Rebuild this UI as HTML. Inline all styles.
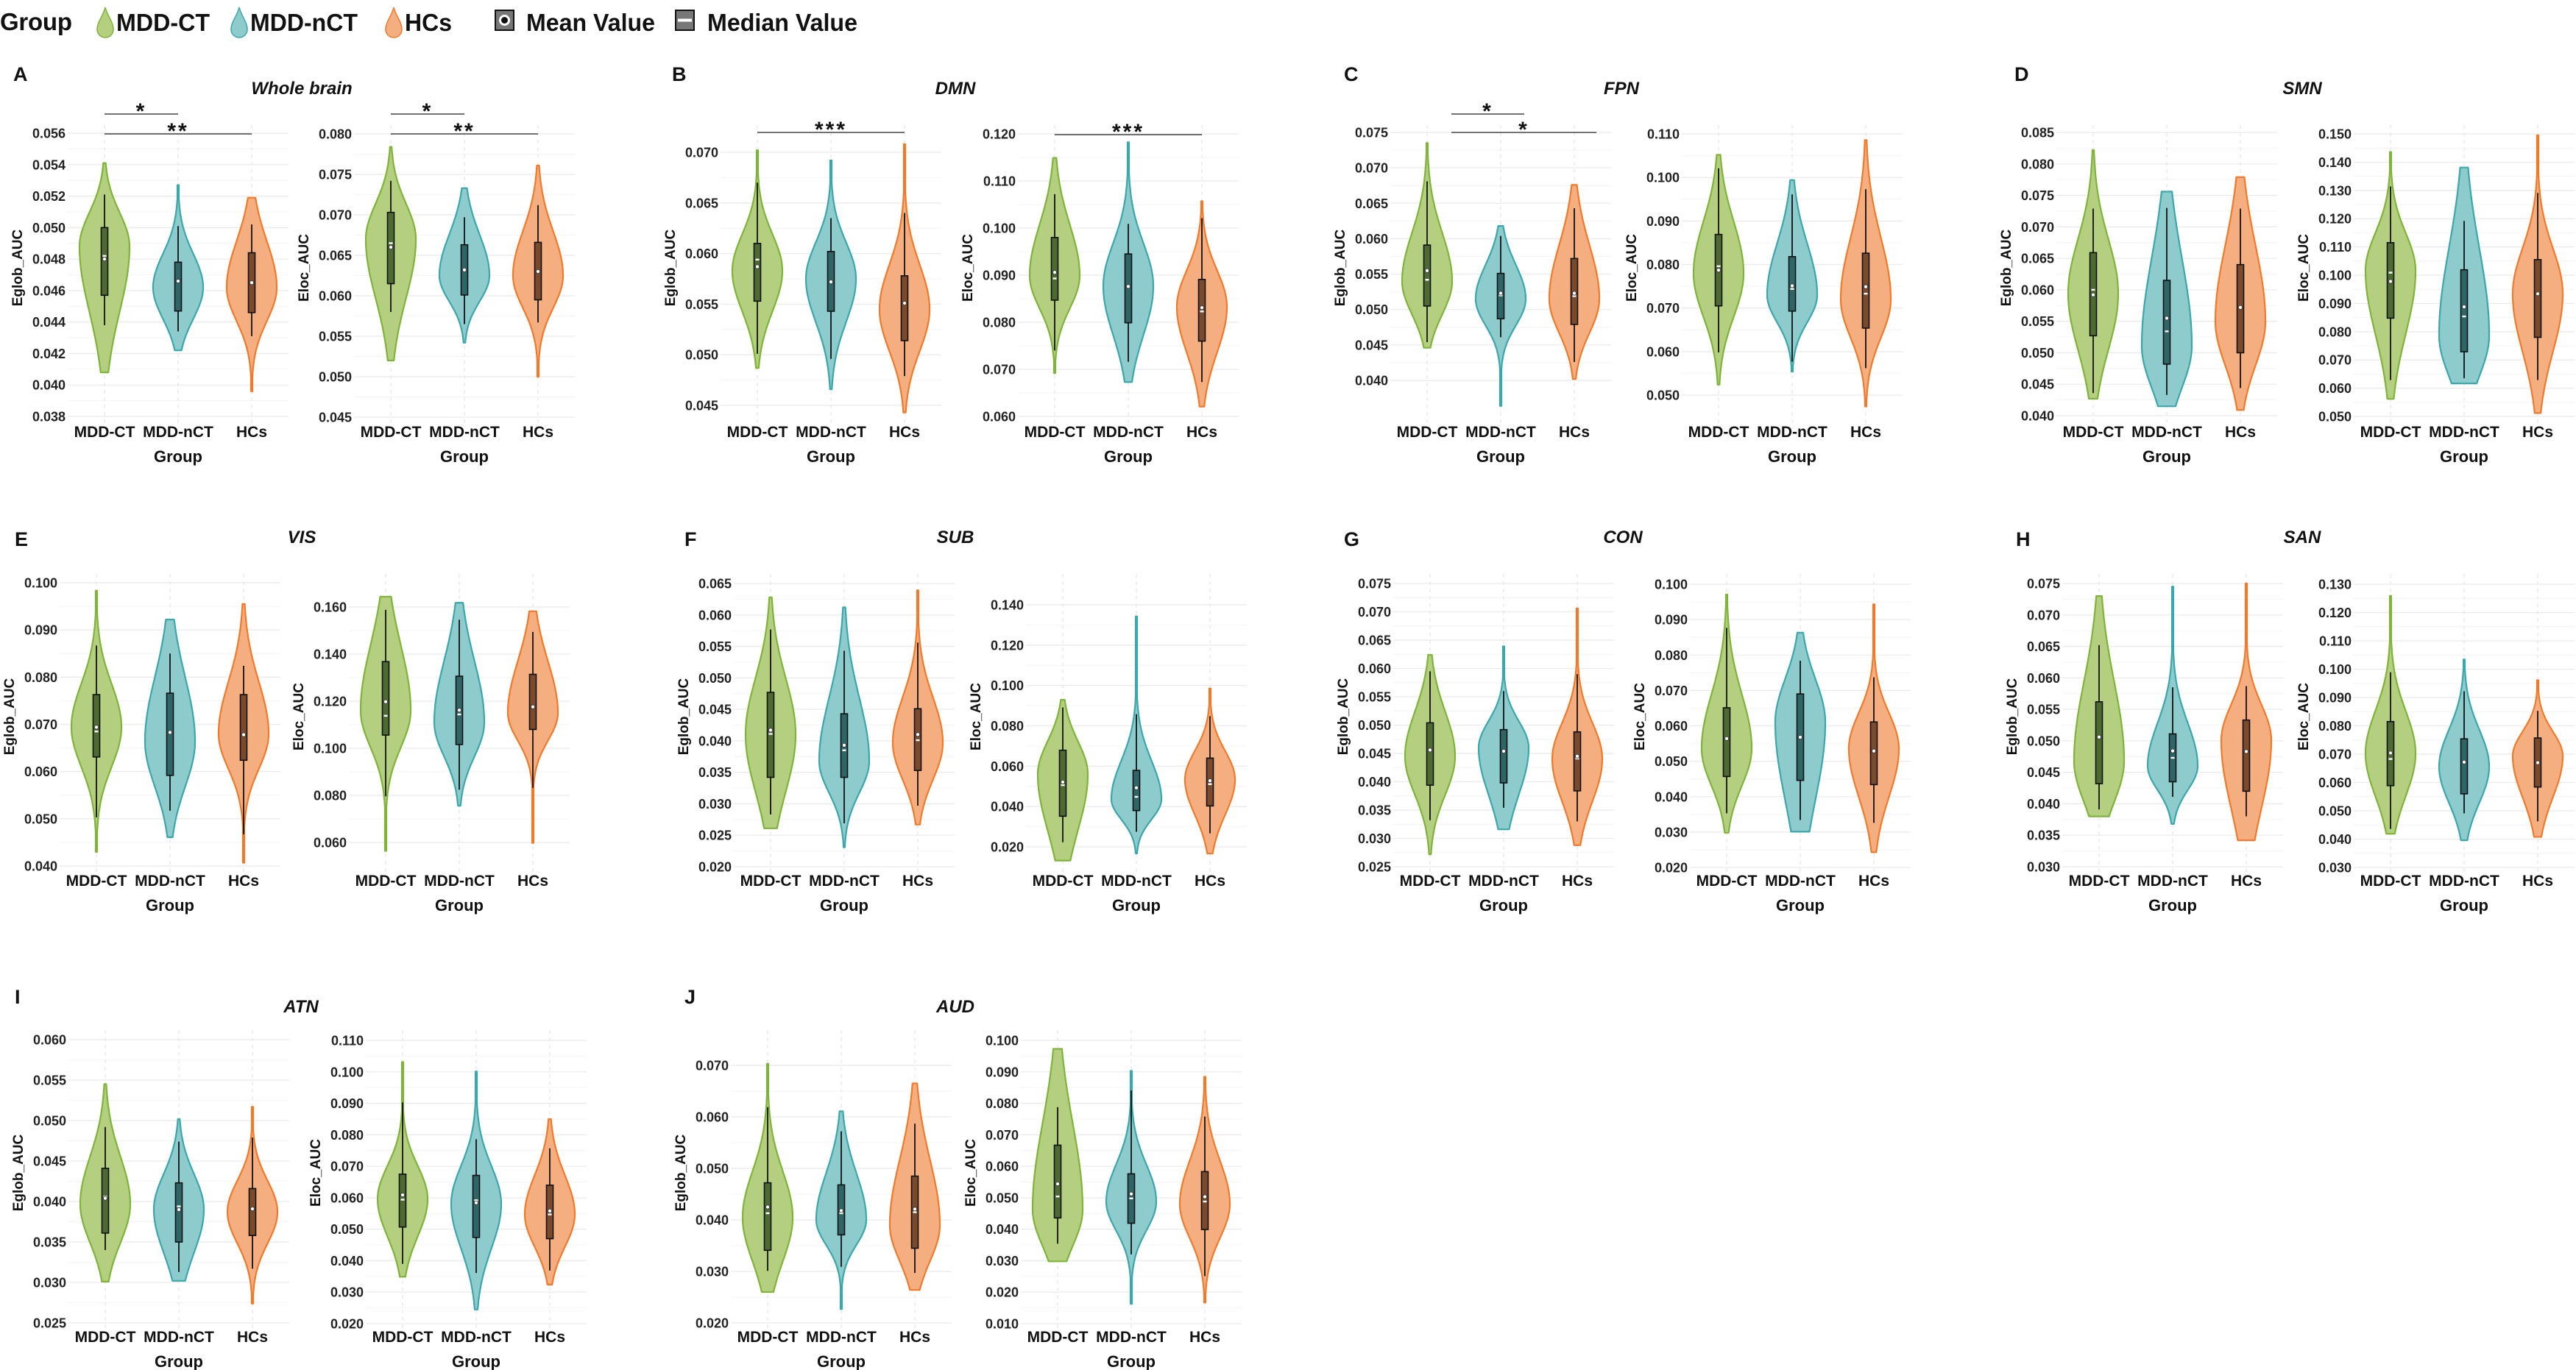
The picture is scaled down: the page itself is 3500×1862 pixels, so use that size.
<!DOCTYPE html>
<html><head><meta charset="utf-8">
<style>
html,body{margin:0;padding:0;background:#fff;}
svg{display:block;}
.tick{font-family:"Liberation Sans Narrow","Liberation Sans",sans-serif;font-weight:bold;font-size:18px;fill:#222;}
.cat{font-family:"Liberation Sans Narrow","Liberation Sans",sans-serif;font-weight:bold;font-size:21px;fill:#111;}
.axt{font-family:"Liberation Sans",sans-serif;font-weight:bold;font-size:19px;fill:#111;}
.grp{font-family:"Liberation Sans Narrow","Liberation Sans",sans-serif;font-weight:bold;font-size:22px;fill:#111;}
.ttl{font-family:"Liberation Sans",sans-serif;font-weight:bold;font-style:italic;font-size:24px;fill:#111;}
.let{font-family:"Liberation Sans",sans-serif;font-weight:bold;font-size:27px;fill:#111;}
.leg{font-family:"Liberation Sans",sans-serif;font-weight:bold;font-size:33px;fill:#111;}
.sig{font-family:"Liberation Sans",sans-serif;font-weight:bold;font-size:30px;fill:#111;}
</style></head>
<body>
<svg id="chart" width="3500" height="1862" viewBox="0 0 3500 1862" xmlns="http://www.w3.org/2000/svg">
<g id="legend">
  <text class="leg" x="0" y="41" textLength="98">Group</text>
  <g>
    <path d="M143,10 C146,22 154,30 154,40 A11,11 0 0 1 132,40 C132,30 140,22 143,10Z" fill="#b3cf7f" stroke="#7fb33a" stroke-width="1.5"/>
    <text class="leg" x="158" y="42" textLength="127" lengthAdjust="spacingAndGlyphs">MDD-CT</text>
  </g>
  <g>
    <path d="M325,10 C328,22 336,30 336,40 A11,11 0 0 1 314,40 C314,30 322,22 325,10Z" fill="#8ecbcc" stroke="#3ba7ab" stroke-width="1.5"/>
    <text class="leg" x="340" y="42" textLength="146" lengthAdjust="spacingAndGlyphs">MDD-nCT</text>
  </g>
  <g>
    <path d="M535,10 C538,22 546,30 546,40 A11,11 0 0 1 524,40 C524,30 532,22 535,10Z" fill="#f5ae80" stroke="#f07a2b" stroke-width="1.5"/>
    <text class="leg" x="550" y="42" textLength="64" lengthAdjust="spacingAndGlyphs">HCs</text>
  </g>
  <g>
    <rect x="673" y="14" width="25" height="27" fill="#777" stroke="#111" stroke-width="2"/>
    <circle cx="685.5" cy="27.5" r="7.5" fill="#fff"/><circle cx="685.5" cy="27.5" r="4.5" fill="#111"/>
    <text class="leg" x="715" y="42" textLength="175" lengthAdjust="spacingAndGlyphs">Mean Value</text>
  </g>
  <g>
    <rect x="918" y="14" width="25" height="27" fill="#777" stroke="#111" stroke-width="2"/>
    <rect x="921" y="25.5" width="19" height="4" fill="#fff"/>
    <text class="leg" x="961" y="42" textLength="204" lengthAdjust="spacingAndGlyphs">Median Value</text>
  </g>
</g>
<g id="plots"></g>
</svg>
<script>
const categories = ['MDD-CT','MDD-nCT','HCs'];
const panelLetters = ['A','B','C','D','E','F','G','H','I','J'];
const panelTitles = ['Whole brain','DMN','FPN','SMN','VIS','SUB','CON','SAN','ATN','AUD'];
const metricNames = ['Eglob_AUC','Eloc_AUC'];
const yTickMin = [.038,.045,.045,.060,.040,.050,.040,.050,.040,.060,.020,.020,.025,.020,.030,.030,.025,.020,.020,.010];
const yTickMax = [.056,.080,.070,.120,.075,.110,.085,.150,.100,.160,.065,.140,.075,.100,.075,.130,.060,.110,.070,.100];
const yTickStep = [.002,.005,.005,.010,.005,.010,.005,.010,.010,.020,.005,.020,.005,.010,.005,.010,.005,.010,.010,.010];
const vMin = [[.0408,.0422,.0396],[.052,.0542,.050],[.0487,.0466,.0443],[.0692,.0673,.0621],[.0446,.0364,.0402],[.0524,.0554,.0474],[.0427,.0415,.0409],[.0562,.0617,.0512],[.043,.0461,.0407],[.0564,.0756,.0598],[.0261,.0231,.0267],[.0132,.0167,.0167],[.0272,.0316,.0288],[.0298,.0301,.0243],[.038,.0368,.0342],[.0419,.0396,.0408],[.0301,.0302,.0274],[.0349,.0245,.0324],[.026,.0227,.0264],[.0298,.0163,.0167]];
const vMax = [[.0541,.0527,.0519],[.0784,.0733,.0761],[.0702,.0692,.0708],[.1149,.1182,.1057],[.0735,.0618,.0676],[.1052,.0994,.1086],[.0822,.0756,.0779],[.1436,.1381,.1495],[.0983,.0922,.0955],[.1644,.1618,.1582],[.0628,.0612,.0639],[.0929,.1342,.0985],[.0624,.0639,.0706],[.0971,.0863,.0943],[.073,.0745,.075],[.1259,.1034,.0961],[.0545,.0502,.0517],[.1031,.1001,.085],[.0703,.0611,.0665],[.0973,.0903,.0884]];
const vMode = [[.0488,.0462,.0462],[.067,.0625,.0625],[.0583,.0575,.0545],[.0899,.0877,.0833],[.054,.0515,.0515],[.078,.073,.072],[.0594,.0511,.055],[.1016,.0787,.0934],[.0694,.0664,.068],[.116,.111,.115],[.041,.0368,.0397],[.056,.0436,.0534],[.0445,.046,.044],[.0536,.061,.0536],[.0468,.046,.0501],[.0702,.0656,.0693],[.0397,.039,.0387],[.0596,.058,.0547],[.0405,.040,.039],[.0463,.0488,.048]];
const wLo = [[.0438,.0434,.0431],[.058,.0565,.0567],[.0501,.0496,.0479],[.074,.0716,.0673],[.0454,.0461,.0426],[.0598,.0577,.0562],[.0436,.0433,.0444],[.0629,.0635,.0629],[.0503,.0517,.0467],[.0796,.0824,.0832],[.0283,.0269,.0297],[.0223,.0275,.0267],[.0332,.0354,.033],[.0353,.0334,.0326],[.0391,.0411,.038],[.0436,.0491,.0463],[.034,.0313,.0317],[.039,.0361,.0369],[.0301,.0309,.0297],[.0354,.032,.0251]];
const q1 = [[.0457,.0447,.0446],[.0615,.0601,.0595],[.0553,.0543,.0514],[.0847,.0799,.076],[.0505,.0487,.0479],[.0705,.0693,.0654],[.0527,.0482,.050],[.0848,.0729,.078],[.0631,.0592,.0624],[.1056,.1016,.108],[.0342,.0342,.0353],[.0352,.038,.0403],[.0394,.0398,.0384],[.0457,.0446,.0434],[.0432,.0435,.042],[.0589,.056,.0584],[.0361,.035,.0358],[.0507,.0474,.047],[.0341,.0371,.0345],[.0436,.0419,.0399]];
const med = [[.0482,.0466,.0465],[.0665,.0633,.063],[.0594,.0572,.0551],[.0893,.0876,.0823],[.0542,.052,.0519],[.0796,.0744,.0733],[.060,.0534,.0572],[.1009,.0854,.0934],[.0685,.0683,.0678],[.1138,.1144,.1176],[.0411,.0385,.0401],[.0506,.0448,.0511],[.0456,.0454,.0441],[.0564,.0568,.0529],[.0506,.0473,.0483],[.0683,.0672,.067],[.0406,.0394,.0391],[.0594,.0592,.0547],[.0413,.0413,.0415],[.0504,.0498,.0488]];
const q3 = [[.050,.0478,.0484],[.0703,.0663,.0666],[.061,.0602,.0578],[.098,.0945,.0891],[.0591,.0551,.0572],[.0869,.0818,.0826],[.0659,.0615,.064],[.1115,.1019,.1055],[.0763,.0766,.0763],[.1368,.1306,.1314],[.0477,.0443,.0451],[.0679,.0579,.064],[.0504,.0492,.0488],[.0651,.069,.0611],[.0562,.0511,.0533],[.0815,.0754,.0757],[.0441,.0423,.0416],[.0675,.0671,.064],[.0472,.0468,.0485],[.0667,.0576,.0583]];
const wHi = [[.0521,.0501,.0502],[.0742,.0697,.0712],[.067,.0635,.064],[.1072,.1009,.1021],[.0681,.0604,.0643],[.1021,.0961,.0973],[.0729,.073,.0729],[.1314,.1192,.1291],[.0867,.085,.0824],[.1588,.1546,.1494],[.0577,.0543,.0556],[.0891,.0858,.0848],[.0595,.056,.059],[.0877,.0784,.0737],[.0652,.0585,.0587],[.0989,.0922,.0853],[.0492,.0474,.0479],[.0903,.0786,.0757],[.0619,.0572,.0587],[.0788,.0841,.0758]];
const meanVal = [[.048,.0466,.0465],[.066,.0632,.063],[.0587,.0572,.0551],[.0906,.0876,.0831],[.0555,.0523,.0523],[.0787,.0751,.0749],[.0592,.0555,.0572],[.0978,.0888,.0934],[.0694,.0683,.0678],[.1198,.1162,.1176],[.0417,.0393,.041],[.0521,.0493,.0528],[.0456,.0454,.0445],[.0564,.0568,.0529],[.0506,.0484,.0483],[.0704,.0672,.067],[.0404,.039,.0391],[.0609,.0584,.0558],[.0425,.0418,.0421],[.0544,.0512,.0503]];
// significance comparisons
const sigPlot = [0,0,1,1,2,3,4,4];
const sigFrom = [0,0,0,0,0,0,0.33,0.33];
const sigTo = [1,2,1,2,2,2,1.32,2.3];
const sigLabel = ['*','**','*','**','***','***','*','*'];
const sigLevel = [0,1,0,1,1,1,0,1];

// ----- layout (pixels, not data) -----
const layCat0 = [142,531,1029,1433,1939,2335,2844,3248,131,524,1047,1444,1943,2346,2852,3248,143,547,1043,1437];
const layTopPix = [181,182,207,182,180,182,180,182,792,825,793,822,793,794,793,794,1413,1414,1448,1414];
const layBotPix = [566,567,551,566,517,537,565,566,1177,1145,1178,1151,1178,1179,1178,1179,1798,1799,1798,1799];
const rowPanelTop = [170,780,1400], rowPanelBot = [578,1188,1808];
const rowCatY = [594,1204,1824], rowGroupY = [628,1238,1858];
const rowTitleY = [128,738,1376], rowLetterY = [110,742,1364];
const panelLetterX = [18,913,1826,2737,20,930,1826,2739,20,930];
const panelTitleX = [410,1298,2203,3128,410,1298,2205,3128,409,1298];
const sigLineYByPlot = [[155,182],[155,182],[180,180],[183,183],[155,180]];
const fills = ['#b3cf7f','#8ecbcc','#f5ae80'];
const strokes = ['#7fb33a','#3ba7ab','#f07a2b'];
const boxFills = ['#4e6a33','#2e6668','#7a4a2c'];
const SP = 100, HALFW = 34;

const NS = 'http://www.w3.org/2000/svg';
const root = document.getElementById('plots');
function mk(tag, attrs, parent){
  const e = document.createElementNS(NS, tag);
  for (const k in attrs) e.setAttribute(k, attrs[k]);
  (parent||root).appendChild(e);
  return e;
}
function yScaleFor(p){
  const t0 = yTickMax[p], t1 = yTickMin[p], a = layTopPix[p], b = layBotPix[p];
  return v => a + (t0 - v) / (t0 - t1) * (b - a);
}
function xScaleFor(p){ return i => layCat0[p] + i * SP; }

for (let pi = 0; pi < 10; pi++){
  const row = Math.floor(pi / 4);
  const lt = mk('text', {class:'let', x:panelLetterX[pi], y:rowLetterY[row]});
  lt.textContent = panelLetters[pi];
  
  
  const tt = mk('text', {class:'ttl', x:panelTitleX[pi], y:rowTitleY[row], 'text-anchor':'middle'});
  tt.textContent = panelTitles[pi];
  
  
}

for (let p = 0; p < 20; p++){
  const pi = Math.floor(p / 2), row = Math.floor(pi / 4);
  const y = yScaleFor(p), x = xScaleFor(p);
  const g = mk('g', {});
  
  
  const xl = x(0) - 50, xr = x(2) + 50;
  const pTop = rowPanelTop[row], pBot = rowPanelBot[row];
  const nT = Math.round((yTickMax[p] - yTickMin[p]) / yTickStep[p]);
  for (let k = 0; k < nT; k++){
    const v = yTickMin[p] + (k + 0.5) * yTickStep[p];
    mk('line', {x1:xl, x2:xr, y1:y(v), y2:y(v), stroke:'#f4f4f4', 'stroke-width':1}, g);
  }
  for (let k = 0; k <= nT; k++){
    const v = yTickMin[p] + k * yTickStep[p];
    const gl = mk('line', {x1:xl, x2:xr, y1:y(v), y2:y(v), stroke:'#ebebeb', 'stroke-width':1.3}, g);
    
    
    const tl = mk('text', {class:'tick', x:x(0) - 53, y:y(v) + 6.5, 'text-anchor':'end'}, g);
    tl.textContent = v.toFixed(3);
    
    
  }
  for (let c = 0; c < 3; c++){
    mk('line', {x1:x(c), x2:x(c), y1:pTop, y2:pBot, stroke:'#e6e6e6', 'stroke-width':1.2, 'stroke-dasharray':'5,5'}, g);
    const cl = mk('text', {class:'cat', x:x(c), y:rowCatY[row], 'text-anchor':'middle'}, g);
    cl.textContent = categories[c];
    
    
  }
  const gx = mk('text', {class:'grp', x:x(1), y:rowGroupY[row], 'text-anchor':'middle'}, g);
  gx.textContent = 'Group';
  
  
  const ay = (pTop + pBot) / 2 - 10, ax = x(0) - 112;
  const yt = mk('text', {class:'axt', x:ax, y:ay, 'text-anchor':'middle', transform:'rotate(-90 ' + ax + ' ' + ay + ')'}, g);
  yt.textContent = metricNames[p % 2];
  
  

  for (let c = 0; c < 3; c++){
    const lo = vMin[p][c], hi = vMax[p][c], mo = vMode[p][c];
    const iqr = q3[p][c] - q1[p][c];
    const sLo = Math.max((mo - q1[p][c]) / 0.75, iqr * 0.5, 1e-6);
    const sHi = Math.max((q3[p][c] - mo) / 0.75, iqr * 0.5, 1e-6);
    const N = 80, L = [], R = [];
    for (let k = 0; k <= N; k++){
      const v = lo + (hi - lo) * k / N;
      const s = v < mo ? sLo : sHi;
      const d = Math.exp(-0.5 * Math.pow((v - mo) / s, 2));
      const w = HALFW * Math.max(d, 0.03);
      L.push([x(c) - w, y(v)]); R.push([x(c) + w, y(v)]);
    }
    let dstr = 'M' + x(c) + ',' + y(lo);
    L.forEach(q => dstr += ' L' + q[0].toFixed(1) + ',' + q[1].toFixed(1));
    dstr += ' L' + x(c) + ',' + y(hi);
    R.slice().reverse().forEach(q => dstr += ' L' + q[0].toFixed(1) + ',' + q[1].toFixed(1));
    dstr += 'Z';
    const vp = mk('path', {d:dstr, fill:fills[c], stroke:strokes[c], 'stroke-width':2.2, 'stroke-linejoin':'round'}, g);
    
    
    const wk = mk('line', {x1:x(c), x2:x(c), y1:y(wLo[p][c]), y2:y(wHi[p][c]), stroke:'#111', 'stroke-width':1.8}, g);
    
    
    const bx = mk('rect', {x:x(c) - 4.5, y:y(q3[p][c]), width:9, height:y(q1[p][c]) - y(q3[p][c]), fill:boxFills[c], stroke:'#111', 'stroke-width':1.6}, g);
    
    
    const md = mk('rect', {x:x(c) - 2.5, y:y(med[p][c]) - 1.2, width:5, height:2.4, fill:'#fff'}, g);
    
    
    const mn = mk('circle', {cx:x(c), cy:y(meanVal[p][c]), r:2.6, fill:'#fff', stroke:'#333', 'stroke-width':0.8}, g);
    
    
  }
}

for (let s = 0; s < sigPlot.length; s++){
  const p = sigPlot[s], x = xScaleFor(p);
  const ly = sigLineYByPlot[p][sigLevel[s]];
  const x1 = x(sigFrom[s]), x2 = x(sigTo[s]);
  const sl = mk('line', {x1:x1, x2:x2, y1:ly, y2:ly, stroke:'#444', 'stroke-width':1.6});
  
  
  const st = mk('text', {class:'sig', x:(x1 + x2) / 2, y:ly + 6, 'text-anchor':'middle', 'letter-spacing':'3'});
  st.textContent = sigLabel[s];
  
  
}
</script>
</body></html>
